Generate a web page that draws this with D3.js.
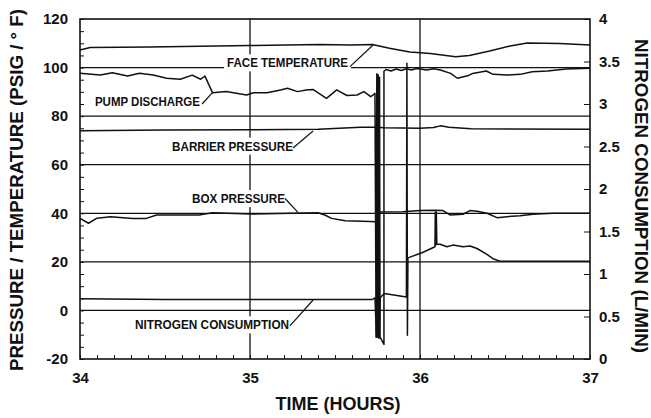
<!DOCTYPE html>
<html>
<head>
<meta charset="utf-8">
<script src="https://cdn.jsdelivr.net/npm/d3@7"></script>
<style>
body{margin:0;background:#fff;}
text{font-family:"Liberation Sans",Arial,sans-serif;font-weight:bold;fill:#111;}
</style>
</head>
<body>
<svg id="chart" width="651" height="418"></svg>
<script>
// [hour, value] pairs
var faceTemp = [[34.00,107.2],[34.06,108.3],[34.41,108.5],[35.00,109.1],[35.41,109.5],[35.59,109.3],[35.72,109.5],
  [35.82,108.0],[35.94,106.4],[36.06,105.8],[36.21,104.5],[36.29,105.0],[36.41,106.8],[36.53,108.9],[36.63,110.1],
  [36.82,109.9],[37.00,109.3]];

var pumpDischarge = [[34.00,97.7],[34.12,96.9],[34.19,97.9],[34.28,96.5],[34.35,97.7],[34.43,96.9],[34.51,95.6],
  [34.59,95.2],[34.66,96.9],[34.71,95.2],[34.735,96.5],[34.78,89.6],[34.86,90.1],[34.98,88.7],[35.02,89.6],
  [35.10,89.6],[35.18,90.8],[35.22,91.5],[35.28,90.1],[35.33,90.8],[35.37,91.0],[35.45,87.3],[35.51,90.8],
  [35.57,88.5],[35.63,88.7],[35.67,90.1],[35.71,88.0],[35.735,89.4],
  [35.742,-11],[35.746,97.5],[35.750,-11],[35.754,97],[35.758,-11.5],[35.762,96],[35.765,-11],[35.788,-14],[35.788,98.5],
  [35.80,99.2],[35.83,98.6],[35.86,99.4],[35.89,98.8],[35.92,99.5],[35.95,99.0],[35.98,99.6],[36.00,99.4],
  [36.04,99.0],[36.08,99.5],[36.12,99.0],[36.18,97.6],[36.22,95.6],[36.28,96.6],[36.31,97.6],[36.39,98.6],
  [36.43,97.2],[36.51,96.9],[36.59,97.2],[36.66,98.3],[36.75,98.6],[36.86,99.4],[37.00,99.7]];

var barrierPressure = [[34.0,74.0],[34.5,74.3],[35.0,74.4],[35.4,74.6],[35.65,75.4],[35.742,75.4],[35.745,-10],
  [35.748,75.4],[35.79,75.2],[36.0,75.0],[36.08,75.3],[36.12,76.0],[36.17,75.4],[36.3,74.8],[37.0,74.6]];

var boxPressure = [[34.0,37.9],[34.05,35.9],[34.1,38.0],[34.18,38.6],[34.31,37.9],[34.39,37.9],[34.45,39.3],
  [34.7,39.3],[34.78,40.2],[35.0,39.7],[35.4,40.2],[35.44,39.3],[35.48,37.9],[35.56,36.9],[35.66,36.7],
  [35.745,36.5],[35.748,-9],[35.752,40.5],[35.9,40.6],[36.0,41.1],[36.08,41.2],[36.135,41.1],[36.176,39.3],
  [36.253,39.6],[36.294,41.1],[36.335,40.8],[36.394,40.0],[36.453,38.2],[36.512,38.6],[36.588,39.0],
  [36.665,39.6],[36.782,40.0],[37.0,40.0]];

// L/min, right axis
var nitrogen = [[34.0,0.71],[34.5,0.70],[35.0,0.70],[35.5,0.70],[35.72,0.70],[35.735,0.72],[35.744,0.26],
  [35.752,0.72],[35.760,0.25],[35.766,0.72],[35.79,0.77],[35.92,0.73],[35.923,3.48],[35.926,0.28],[35.929,1.19],
  [36.012,1.25],[36.088,1.32],[36.09,1.73],[36.093,1.34],[36.096,1.73],[36.099,1.35],[36.118,1.35],
  [36.159,1.32],[36.194,1.34],[36.253,1.32],[36.294,1.33],[36.335,1.30],[36.394,1.23],[36.429,1.18],
  [36.471,1.15],[37.0,1.15]];

var leftTicks = [-20,0,20,40,60,80,100,120];
var rightTicks = [0,0.5,1,1.5,2,2.5,3,3.5,4];
var hourTicks = [34,35,36,37];
var gridLeft = [0,20,40,60,80,100];
var gridHours = [35,36];

var svg = d3.select("#chart");
var x = d3.scaleLinear().domain([34,37]).range([80,590]);
var yL = d3.scaleLinear().domain([-20,120]).range([359,19]);
var yR = d3.scaleLinear().domain([0,4]).range([359,19]);

// grid
svg.append("g").selectAll("line").data(gridLeft).enter().append("line")
  .attr("x1", x(34)).attr("x2", x(37))
  .attr("y1", function(d){ return yL(d); }).attr("y2", function(d){ return yL(d); })
  .attr("stroke","#111").attr("stroke-width",1.3);
svg.append("g").selectAll("line").data(gridHours).enter().append("line")
  .attr("x1", function(d){ return x(d); }).attr("x2", function(d){ return x(d); })
  .attr("y1", yL(120)).attr("y2", yL(-20))
  .attr("stroke","#111").attr("stroke-width",1.3);

// series
var lineL = d3.line().x(function(d){ return x(d[0]); }).y(function(d){ return yL(d[1]); });
var lineR = d3.line().x(function(d){ return x(d[0]); }).y(function(d){ return yR(d[1]); });
[faceTemp, pumpDischarge, barrierPressure, boxPressure].forEach(function(s){
  svg.append("path").attr("d", lineL(s)).attr("fill","none")
    .attr("stroke","#111").attr("stroke-width",1.5).attr("stroke-linejoin","round");
});
svg.append("path").attr("d", lineR(nitrogen)).attr("fill","none")
  .attr("stroke","#111").attr("stroke-width",1.5).attr("stroke-linejoin","round");

// series labels with leader lines (hour / left-axis units)
var labels = [
  {name:"FACE TEMPERATURE", h:34.865, v:100.1, w:121, l:[[35.588,100.4],[35.724,109.3]]},
  {name:"PUMP DISCHARGE", h:34.088, v:84.0, w:105, l:[[34.718,85.0],[34.782,89.9]]},
  {name:"BARRIER PRESSURE", h:34.541, v:65.8, w:121, l:[[35.253,66.9],[35.371,73.9]]},
  {name:"BOX PRESSURE", h:34.659, v:44.2, w:93, l:[[35.206,46.1],[35.282,40.4]]},
  {name:"NITROGEN CONSUMPTION", h:34.324, v:-7.8, w:154, l:[[35.235,-6.4],[35.371,4.3]]}
];
labels.forEach(function(d){
  var g = svg.append("g");
  var bg = g.append("rect").attr("fill","#fff");
  var t = g.append("text").attr("x", x(d.h)).attr("y", yL(d.v))
    .attr("font-size",12).attr("textLength", d.w).attr("lengthAdjust","spacingAndGlyphs")
    .text(d.name);
  var b = t.node().getBBox();
  bg.attr("x", b.x-3).attr("y", b.y-2).attr("width", b.width+6).attr("height", b.height+3);
  g.append("line").attr("x1", x(d.l[0][0])).attr("y1", yL(d.l[0][1]))
    .attr("x2", x(d.l[1][0])).attr("y2", yL(d.l[1][1]))
    .attr("stroke","#111").attr("stroke-width",1.2);
});

// frame
svg.append("rect").attr("x", x(34)).attr("y", yL(120))
  .attr("width", x(37)-x(34)).attr("height", yL(-20)-yL(120))
  .attr("fill","none").attr("stroke","#111").attr("stroke-width",1.6);

// minor ticks (inside)
svg.append("g").attr("transform","translate(80,0)").attr("color","#111")
  .call(d3.axisLeft(yL).tickValues(d3.range(-20,121,5)).tickSizeInner(-4).tickSizeOuter(0).tickFormat(""))
  .call(function(g){ g.select(".domain").remove(); });
svg.append("g").attr("transform","translate(590,0)").attr("color","#111")
  .call(d3.axisRight(yR).tickValues(rightTicks).tickSizeInner(-6).tickSizeOuter(0).tickFormat(""))
  .call(function(g){ g.select(".domain").remove(); });
svg.append("g").attr("transform","translate(0,359)").attr("color","#111")
  .call(d3.axisBottom(x).tickValues(d3.range(0,31).map(function(i){ return 34+i/10; }))
    .tickSizeInner(-4).tickSizeOuter(0).tickFormat(""))
  .call(function(g){ g.select(".domain").remove(); });

// tick labels
svg.append("g").attr("transform","translate(80,0)")
  .call(d3.axisLeft(yL).tickValues(leftTicks).tickSize(0).tickPadding(12).tickFormat(function(d){ return String(d); }))
  .attr("font-size",15)
  .call(function(g){ g.select(".domain").remove(); });
svg.append("g").attr("transform","translate(590,0)")
  .call(d3.axisRight(yR).tickValues(rightTicks).tickSize(0).tickPadding(9).tickFormat(function(d){ return String(d); }))
  .attr("font-size",15)
  .call(function(g){ g.select(".domain").remove(); });
svg.append("g").attr("transform","translate(0,359)")
  .call(d3.axisBottom(x).tickValues(hourTicks).tickSize(0).tickPadding(13).tickFormat(function(d){ return String(d); }))
  .attr("font-size",15)
  .call(function(g){ g.select(".domain").remove(); });

// axis titles
svg.append("text").attr("x",338).attr("y",410).attr("text-anchor","middle")
  .attr("font-size",18).text("TIME (HOURS)");
svg.append("text").attr("transform","translate(17,190) rotate(-90)").attr("text-anchor","middle")
  .attr("dy","0.36em").attr("font-size",18).attr("textLength",362).attr("lengthAdjust","spacingAndGlyphs")
  .text("PRESSURE / TEMPERATURE (PSIG / \u00B0 F)");
svg.append("text").attr("transform","translate(641,196) rotate(90)").attr("text-anchor","middle")
  .attr("dy","0.36em").attr("font-size",18).attr("textLength",314).attr("lengthAdjust","spacingAndGlyphs")
  .text("NITROGEN CONSUMPTION (L/MIN)");
</script>
</body>
</html>
